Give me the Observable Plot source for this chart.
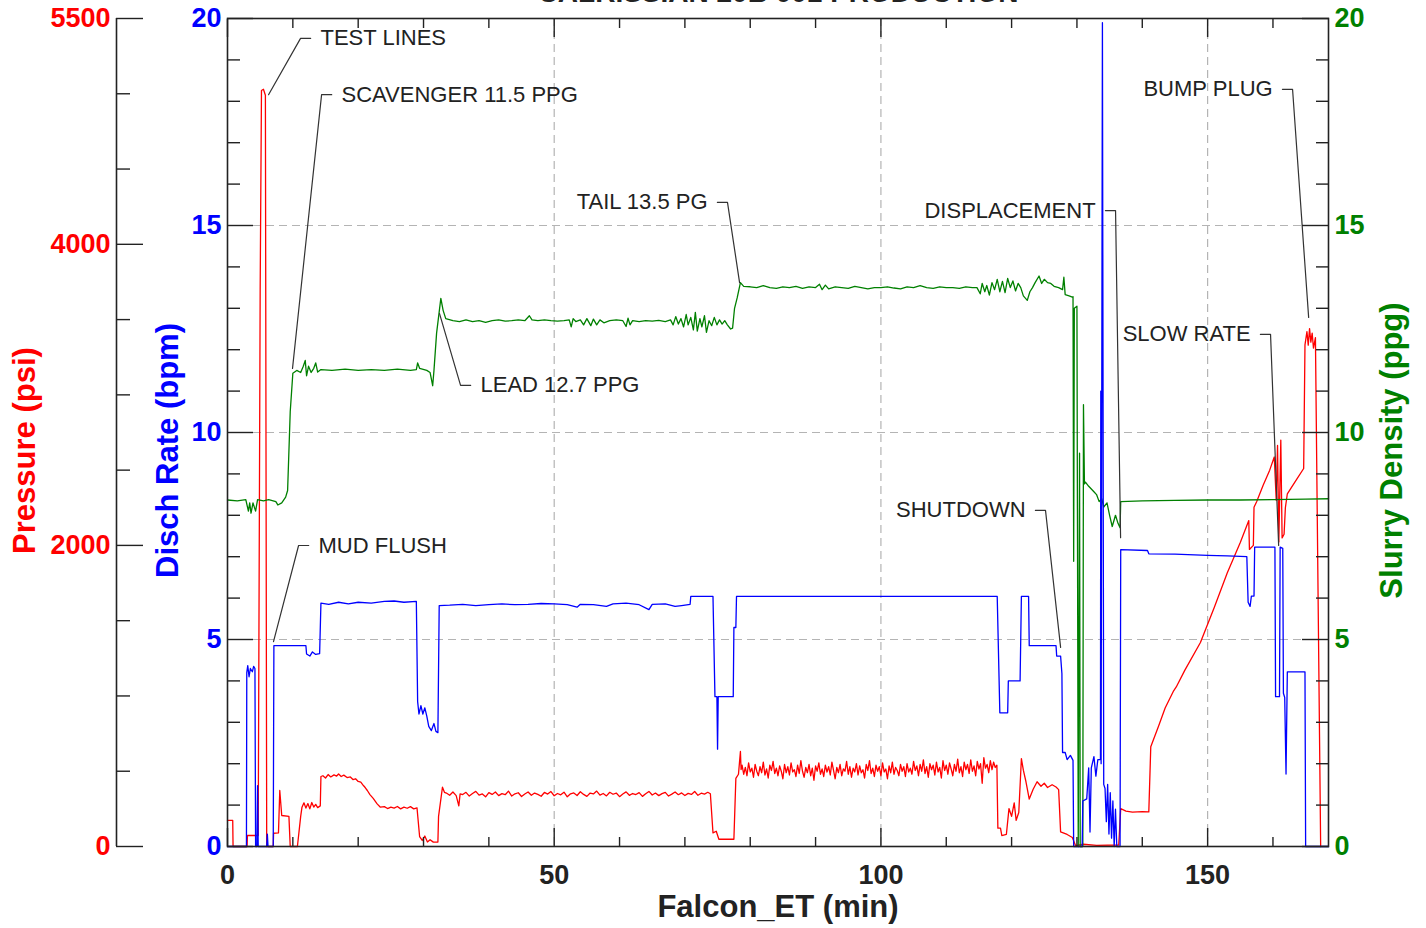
<!DOCTYPE html>
<html><head><meta charset="utf-8">
<script src="https://cdn.jsdelivr.net/npm/d3@7"></script>
<script src="https://cdn.jsdelivr.net/npm/@observablehq/plot@0.6"></script>
<style>html,body{margin:0;padding:0;background:#fff;overflow:hidden}</style>
</head><body><div id="chart"></div>
<script>
const titleText = "CALRISSIAN 20B 001 PRODUCTION";
const xLabel = "Falcon_ET (min)";
const pressureLabel = "Pressure (psi)";
const rateLabel = "Disch Rate (bpm)";
const densityLabel = "Slurry Density (ppg)";

const xDomain = [0, 168.5];
const rateMax = 20;
const pressureMax = 5500;

const xMajorTicks = [0, 50, 100, 150];
const xMinorTicks = [10, 20, 30, 40, 60, 70, 80, 90, 110, 120, 130, 140, 160];
const rateMajorTicks = [0, 5, 10, 15, 20];
const rateMinorTicks = [1,2,3,4,6,7,8,9,11,12,13,14,16,17,18,19];
const densityMajorTicks = [0, 5, 10, 15, 20];
const densityMinorTicks = [1,2,3,4,6,7,8,9,11,12,13,14,16,17,18,19];
const pressureMajorTicks = [0, 2000, 4000, 5500];
const pressureMinorTicks = [500, 1000, 1500, 2500, 3000, 3500, 4500, 5000];
const gridX = [50, 100, 150];
const gridY = [5, 10, 15];

// Disch Rate (bpm): [min, bpm]
const ratePts = [[0,0],[2.9,0],[2.95,4.2],[3.1,4.37],[3.3,4.1],[3.5,4.3],[3.8,4.22],[4.0,4.35],[4.2,4.3],[4.3,0],[4.5,0],[4.6,1.47],[4.7,0],[6.0,0],[6.1,0.3],[6.2,0],[7.0,0],[7.1,4.85],[12.0,4.85],[12.1,4.65],[12.6,4.6],[13.0,4.7],[13.5,4.64],[14.1,4.66],[14.3,5.88],[15.5,5.85],[17,5.9],[18.5,5.86],[20,5.9],[22,5.88],[24,5.92],[25.5,5.93],[27,5.9],[28.9,5.92],[29.1,3.5],[29.3,3.2],[29.6,3.4],[29.9,3.2],[30.2,3.35],[30.5,3.15],[30.8,2.9],[31.2,2.8],[31.6,2.97],[31.9,2.78],[32.2,2.75],[32.4,5.82],[34,5.83],[36,5.85],[38,5.82],[40,5.84],[42,5.86],[44,5.84],[46,5.85],[48,5.87],[50,5.86],[52,5.84],[53.5,5.78],[54,5.85],[56,5.84],[58,5.8],[59,5.86],[61,5.88],[63,5.84],[64.5,5.72],[65,5.85],[67,5.86],[68.5,5.8],[69.5,5.82],[70.8,5.85],[70.9,6.04],[74.3,6.04],[74.6,3.62],[74.9,3.62],[75.0,2.35],[75.1,3.62],[77.4,3.62],[77.5,5.29],[77.8,5.29],[77.9,6.04],[117.8,6.04],[118.2,3.23],[119.4,3.23],[119.5,4.0],[121.3,4.0],[121.5,6.04],[122.6,6.04],[122.7,4.85],[126.8,4.85],[126.9,4.6],[127.5,4.6],[127.7,4.18],[127.8,2.27],[128.2,2.27],[128.5,2.1],[129.0,2.2],[129.4,2.08],[129.5,0],[130.8,0],[130.9,1.1],[131.5,1.15],[131.8,1.9],[132.0,0.35],[132.2,1.9],[132.6,2.17],[132.9,1.7],[133.2,2.1],[133.6,2.1],[133.65,11.0],[133.7,2.0],[133.9,19.9],[134.1,1.5],[134.3,1.4],[134.5,0.6],[134.7,1.5],[134.9,0.3],[135.1,1.3],[135.3,0.2],[135.5,1.1],[135.7,0],[135.9,0.9],[136.1,0],[136.6,0],[136.7,7.17],[140.8,7.15],[141.0,7.07],[145,7.06],[150,7.03],[153,7.02],[156.0,7.0],[156.2,5.9],[156.5,5.8],[156.7,6.05],[157.1,6.05],[157.2,7.23],[160.3,7.23],[160.4,3.62],[161.0,3.62],[161.1,7.23],[161.5,7.2],[161.6,3.7],[161.8,3.6],[162.0,1.75],[162.2,4.22],[164.9,4.22],[165.0,0],[168.5,0]];

// Pressure (psi): [min, psi]
const pressureStart = [[0,173],[0.8,173],[0.85,0],[3.0,0],[3.05,73],[4.7,73],[5.0,3700],[5.2,5022],[5.5,5030],[5.8,4990],[6.0,0],[7.0,0],[7.05,88],[7.8,90],[8.0,372],[8.3,206],[9.4,200],[9.6,0],[10.7,0],[11.2,200],[11.4,261],[11.7,290],[12,255],[12.3,285],[12.6,250],[12.9,292],[13.2,262],[13.5,280],[13.8,258],[14.2,270],[14.3,465],[14.6,470],[15.0,455],[15.4,478],[15.8,462],[16.3,476],[16.7,468],[17.0,482],[17.4,465],[17.8,474],[18.3,458],[18.8,462],[19.2,445],[19.6,450],[20.0,432],[20.4,427],[20.8,405],[21.1,390],[21.4,372],[21.8,345],[22.3,320],[22.9,283],[23.4,261],[24,265],[24.5,252],[25,262],[25.5,255],[26,266],[26.5,250],[27,262],[27.5,254],[28,265],[28.5,250],[29,257],[29.4,66],[29.8,40],[30.2,70],[30.6,30],[31,45],[31.5,29],[32.2,30],[32.3,200],[32.9,394],[33.2,360]];
const pressureLead = [[33.5,355],[34,340],[34.5,362],[35,338],[35.4,270],[35.6,350],[36,345],[36.5,360],[37,335],[37.5,352],[38,366],[38.5,341],[39,349],[39.5,330],[40,358],[40.5,346],[41,362],[41.5,338],[42,351],[42.5,344],[43,368],[43.5,335],[44,350],[44.5,357],[45,332],[45.5,349],[46,362],[46.5,340],[47,355],[47.5,346],[48,334],[48.5,359],[49,348],[49.5,365],[50,337],[50.5,352],[51,343],[51.5,361],[52,330],[52.5,350],[53,356],[53.5,339],[54,364],[54.5,346],[55,333],[55.5,355],[56,349],[56.5,368],[57,341],[57.5,352],[58,336],[58.5,360],[59,347],[59.5,355],[60,331],[60.5,349],[61,363],[61.5,340],[62,352],[62.5,345],[63,358],[63.5,333],[64,350],[64.5,366],[65,342],[65.5,355],[66,338],[66.5,351],[67,360],[67.5,335],[68,348],[68.5,362],[69,344],[69.5,356],[70,339],[70.5,353],[71,346],[71.5,365],[72,340],[72.5,354],[73,348],[73.5,360],[73.9,350]];
const pressureMid = [[74.3,90],[74.8,101],[75.2,48],[77.5,48],[77.8,452],[78.2,480],[78.5,631],[78.6,511]];
const pressureTail = [[78.75,540],[79,480],[79.25,525],[79.5,470],[79.75,555],[80,495],[80.25,520],[80.5,460],[80.75,545],[81,500],[81.25,470],[81.5,530],[81.75,490],[82,560],[82.25,475],[82.5,515],[82.75,455],[83,540],[83.25,505],[83.5,565],[83.75,485],[84,520],[84.25,470],[84.5,535],[84.75,500],[85,450],[85.25,545],[85.5,490],[85.75,530],[86,475],[86.25,555],[86.5,495],[86.75,510],[87,465],[87.25,540],[87.5,485],[87.75,570],[88,500],[88.25,460],[88.5,525],[88.75,490],[89,545],[89.25,470],[89.5,520],[89.75,440],[90,535],[90.25,500],[90.5,555],[90.75,480],[91,515],[91.25,465],[91.5,540],[91.75,495],[92,530],[92.25,475],[92.5,560],[92.75,505],[93,450],[93.25,525],[93.5,490],[93.75,545],[94,470],[94.25,515],[94.5,500],[94.75,565],[95,480],[95.25,530],[95.5,460],[95.75,520],[96,495],[96.25,550],[96.5,475],[96.75,535],[97,490],[97.25,510],[97.5,455],[97.75,545],[98,505],[98.25,570],[98.5,485],[98.75,520],[99,465],[99.25,540],[99.5,500],[99.75,530],[100,470],[100.25,555],[100.5,495],[100.75,515],[101,450],[101.25,535],[101.5,490],[101.75,560],[102,480],[102.25,525],[102.5,505],[102.75,470],[103,545],[103.25,500],[103.5,530],[103.75,465],[104,550],[104.25,495],[104.5,520],[104.75,480],[105,565],[105.25,505],[105.5,535],[105.75,470],[106,545],[106.25,500],[106.5,575],[106.75,485],[107,530],[107.25,460],[107.5,550],[107.75,510],[108,540],[108.25,475],[108.5,560],[108.75,495],[109,525],[109.25,455],[109.5,570],[109.75,505],[110,540],[110.25,480],[110.5,555],[110.75,515],[111,470],[111.25,545],[111.5,500],[111.75,580],[112,490],[112.25,530],[112.5,465],[112.75,560],[113,510],[113.25,545],[113.5,485],[113.75,575],[114,500],[114.25,535],[114.5,470],[114.75,565],[115,515],[115.25,550],[115.5,420],[115.75,590],[116,520],[116.25,545],[116.5,490],[116.75,570],[117,510],[117.25,560],[117.5,525],[117.75,540]];
const pressureEnd = [[117.9,122],[118.3,122],[118.5,73],[119.2,80],[119.6,252],[120.0,200],[120.4,290],[120.7,174],[121.1,226],[121.5,584],[121.8,507],[122.2,430],[122.7,315],[123.3,380],[123.9,430],[124.5,400],[125.0,420],[125.5,392],[126.2,410],[126.8,395],[127.2,378],[127.5,97],[128.5,80],[129.3,60],[129.8,5],[131,15],[133,8],[136.4,10],[136.7,251],[137.5,235],[138.5,228],[140,232],[141.0,230],[141.3,662],[142.5,800],[143.5,920],[144.8,1034],[145.2,1060],[146.5,1170],[148.9,1355],[151,1586],[153,1817],[155,2020],[156.3,2165],[156.4,1973],[157.0,2000],[157.1,2254],[157.5,2290],[158.5,2400],[159.5,2500],[160.2,2587],[160.5,2300],[160.7,2664],[160.9,2023],[161.2,2700],[161.4,2050],[161.7,2074],[161.9,2250],[162.2,2343],[163.5,2430],[164.7,2511],[164.9,3332],[165.2,3420],[165.4,3330],[165.6,3440],[165.8,3350],[166.0,3410],[166.2,3310],[166.5,3380],[167.3,0]];

// Slurry Density (ppg): [min, ppg]
const densityPts = [[0,8.37],[1.5,8.35],[2.8,8.38],[3.2,8.1],[3.4,8.3],[3.6,8.05],[3.9,8.3],[4.3,8.1],[4.6,8.38],[5.5,8.35],[6.3,8.38],[7.4,8.33],[7.7,8.25],[8.3,8.3],[8.9,8.44],[9.2,8.6],[9.6,10.5],[10.0,11.43],[10.6,11.5],[11.2,11.45],[11.6,11.6],[11.9,11.74],[12.1,11.37],[12.4,11.6],[12.8,11.45],[13.2,11.55],[13.5,11.68],[13.8,11.46],[14.3,11.52],[16,11.5],[18,11.53],[20,11.5],[22,11.52],[24,11.5],[26,11.53],[28,11.5],[28.9,11.52],[29.1,11.68],[29.4,11.55],[30.5,11.5],[31.0,11.45],[31.4,11.13],[31.6,11.5],[32.0,12.4],[32.65,13.24],[33.0,12.95],[33.4,12.75],[34.5,12.7],[35.5,12.68],[36.5,12.72],[37.5,12.68],[38.5,12.7],[39.5,12.66],[40.5,12.7],[41.5,12.72],[42.5,12.69],[43.5,12.7],[44.5,12.72],[45.5,12.7],[46.2,12.82],[46.6,12.72],[47.5,12.7],[48.5,12.72],[49.5,12.7],[50.5,12.69],[51.5,12.7],[52.3,12.72],[52.6,12.55],[52.9,12.75],[53.3,12.68],[54,12.72],[54.5,12.6],[55,12.75],[55.6,12.58],[56,12.74],[56.5,12.6],[57,12.72],[57.6,12.65],[58.5,12.7],[59.5,12.72],[60.5,12.7],[61.0,12.56],[61.3,12.76],[61.6,12.6],[62,12.7],[63,12.68],[64,12.7],[65,12.69],[66,12.71],[67,12.68],[67.8,12.72],[68.2,12.6],[68.6,12.8],[69,12.62],[69.4,12.75],[69.8,12.55],[70.2,12.85],[70.5,12.6],[70.9,12.78],[71.3,12.48],[71.6,12.9],[71.9,12.45],[72.3,12.75],[72.6,12.55],[73,12.82],[73.3,12.42],[73.7,12.7],[74.1,12.58],[74.5,12.78],[74.9,12.6],[75.3,12.72],[75.7,12.62],[76.1,12.7],[76.5,12.6],[77.0,12.5],[77.3,12.52],[77.6,13.0],[78.0,13.25],[78.5,13.62],[79,13.53],[80,13.52],[81,13.5],[82,13.55],[83,13.5],[84,13.48],[85,13.52],[86,13.5],[87,13.53],[88,13.48],[89,13.52],[90,13.5],[90.6,13.58],[91,13.45],[91.5,13.56],[92,13.47],[93,13.52],[94,13.5],[95,13.48],[96,13.53],[97,13.5],[98,13.47],[99,13.5],[100,13.5],[101,13.52],[102,13.49],[103,13.47],[104,13.52],[105,13.5],[106,13.55],[107,13.5],[108,13.48],[109,13.52],[110,13.5],[111,13.5],[112,13.48],[113,13.52],[114,13.5],[114.7,13.5],[115.2,13.35],[115.5,13.6],[115.9,13.4],[116.2,13.55],[116.6,13.32],[117.0,13.62],[117.4,13.45],[117.8,13.7],[118.2,13.4],[118.6,13.65],[119.0,13.38],[119.4,13.72],[119.8,13.5],[120.2,13.66],[120.6,13.42],[121.0,13.6],[121.4,13.5],[121.8,13.3],[122.4,13.19],[122.8,13.4],[123.2,13.5],[123.6,13.62],[124.2,13.78],[124.6,13.6],[125.0,13.7],[125.5,13.62],[126.0,13.6],[126.5,13.53],[127.2,13.5],[127.8,13.45],[128.0,13.75],[128.2,13.33],[128.8,13.3],[129.3,13.27],[129.4,13.28],[129.5,6.89],[129.6,13.0],[130.0,13.05],[130.2,0],[130.4,9.5],[130.5,0],[130.9,0],[131.0,10.67],[131.15,8.76],[131.3,8.8],[131.8,8.7],[132.6,8.57],[133.0,8.5],[133.4,8.33],[133.8,8.4],[134.1,8.2],[134.6,8.3],[135.0,8.0],[135.4,7.73],[135.9,8.0],[136.3,7.8],[136.6,7.7],[136.7,8.33],[140,8.35],[145,8.36],[150,8.37],[155,8.37],[160,8.38],[165,8.39],[168.5,8.4]];

// Annotations: label position and the point it refers to, in chart units (min, 0-20 scale)
const annotations = [
  {label: "TEST LINES", side: "start", lt: 14.23, lv: 19.52, pt: 6.28, pv: 18.16},
  {label: "SCAVENGER 11.5 PPG", side: "start", lt: 17.45, lv: 18.16, pt: 9.95, pv: 11.55},
  {label: "MUD FLUSH", side: "start", lt: 13.93, lv: 7.27, pt: 7.04, pv: 4.95},
  {label: "LEAD 12.7 PPG", side: "start", lt: 38.72, lv: 11.14, pt: 32.45, pv: 12.87},
  {label: "TAIL 13.5 PG", side: "end", lt: 73.47, lv: 15.56, pt: 78.37, pv: 13.62},
  {label: "DISPLACEMENT", side: "end", lt: 132.86, lv: 15.36, pt: 136.68, pv: 7.46},
  {label: "SHUTDOWN", side: "end", lt: 122.14, lv: 8.12, pt: 127.5, pv: 4.81},
  {label: "SLOW RATE", side: "end", lt: 156.58, lv: 12.37, pt: 160.87, pv: 7.27},
  {label: "BUMP PLUG", side: "end", lt: 159.95, lv: 18.29, pt: 165.46, pv: 12.78}
];

const RED = "#ff0000", BLUE = "#0000ff", GREEN = "#008000", INK = "#222";
const pk = rateMax / pressureMax;
const pressurePts = [...pressureStart, ...pressureLead, ...pressureMid, ...pressureTail, ...pressureEnd];
const pressureRows = pressurePts.map(([t, p]) => ({t, v: p * pk}));
const rateRows = ratePts.map(([t, v]) => ({t, v}));
const densityRows = densityPts.map(([t, v]) => ({t, v}));

const gap = 1.5, elbow = 1.55;
const leaders = [];
annotations.forEach((a, i) => {
  const s = a.side === "start" ? -1 : 1;
  leaders.push({id: i, t: a.lt + s * gap, v: a.lv});
  leaders.push({id: i, t: a.lt + s * (gap + elbow), v: a.lv});
  leaders.push({id: i, t: a.pt, v: a.pv});
});

const tickFont = {fontSize: 27, fontWeight: "bold"};
const titleFont = {fontSize: 31, fontWeight: "bold", textAnchor: "middle", lineAnchor: "middle"};
const chart = Plot.plot({
  width: 1426,
  height: 928,
  marginLeft: 227,
  marginRight: 98,
  marginTop: 18,
  marginBottom: 82,
  x: {domain: xDomain},
  y: {domain: [0, rateMax]},
  style: {fontFamily: "'Liberation Sans', Arial, sans-serif", background: "#fff", color: INK},
  marks: [
    Plot.gridX(gridX, {stroke: "#b4b4b4", strokeOpacity: 1, strokeWidth: 1.2, strokeDasharray: "8,5"}),
    Plot.gridY(gridY, {stroke: "#b4b4b4", strokeOpacity: 1, strokeWidth: 1.2, strokeDasharray: "8,5"}),
    Plot.line(pressureRows, {x: "t", y: "v", stroke: RED, strokeWidth: 1.3}),
    Plot.line(densityRows, {x: "t", y: "v", stroke: GREEN, strokeWidth: 1.3}),
    Plot.line(rateRows, {x: "t", y: "v", stroke: BLUE, strokeWidth: 1.3}),
    Plot.line(leaders, {x: "t", y: "v", z: "id", stroke: "#333", strokeWidth: 1.2}),
    Plot.text(annotations.filter(a => a.side === "start"), {x: "lt", y: "lv", text: "label", textAnchor: "start", fontSize: 22, fill: INK}),
    Plot.text(annotations.filter(a => a.side === "end"), {x: "lt", y: "lv", text: "label", textAnchor: "end", fontSize: 22, fill: INK}),
    Plot.frame({stroke: INK, strokeWidth: 1.6}),
    // x axis ticks (inward), bottom and top
    Plot.axisX(xMinorTicks, {anchor: "bottom", tickSize: -9, fill: "none", stroke: INK, strokeWidth: 1.4, label: null}),
    Plot.axisX(xMajorTicks, {anchor: "bottom", tickSize: -18, fill: "none", stroke: INK, strokeWidth: 1.4, label: null}),
    Plot.axisX(xMinorTicks, {anchor: "top", tickSize: -9, fill: "none", stroke: INK, strokeWidth: 1.4, label: null}),
    Plot.axisX(xMajorTicks, {anchor: "top", tickSize: -18, fill: "none", stroke: INK, strokeWidth: 1.4, label: null}),
    Plot.axisX(xMajorTicks, {anchor: "bottom", tickSize: 0, tickPadding: 18, fill: INK, label: null, ...tickFont}),
    // rate axis (left frame)
    Plot.axisY(rateMinorTicks, {anchor: "left", tickSize: -13, fill: "none", stroke: INK, strokeWidth: 1.4, label: null}),
    Plot.axisY(rateMajorTicks, {anchor: "left", tickSize: -26, fill: "none", stroke: INK, strokeWidth: 1.4, label: null}),
    Plot.axisY(rateMajorTicks, {anchor: "left", tickSize: 0, tickPadding: 6, fill: BLUE, label: null, ...tickFont}),
    // density axis (right frame)
    Plot.axisY(densityMinorTicks, {anchor: "right", tickSize: -13, fill: "none", stroke: INK, strokeWidth: 1.4, label: null}),
    Plot.axisY(densityMajorTicks, {anchor: "right", tickSize: -27, fill: "none", stroke: INK, strokeWidth: 1.4, label: null}),
    Plot.axisY(densityMajorTicks, {anchor: "right", tickSize: 0, tickPadding: 6, fill: GREEN, label: null, ...tickFont}),
    // pressure axis (offset to the left)
    Plot.ruleX([0], {dx: -111, stroke: INK, strokeWidth: 1.6}),
    Plot.axisY(pressureMinorTicks.map(p => p * pk), {anchor: "left", dx: -111, tickSize: -14, fill: "none", stroke: INK, strokeWidth: 1.4, label: null}),
    Plot.axisY(pressureMajorTicks.map(p => p * pk), {anchor: "left", dx: -111, tickSize: -27, fill: "none", stroke: INK, strokeWidth: 1.4, label: null}),
    Plot.axisY(pressureMajorTicks.map(p => p * pk), {anchor: "left", dx: -111, tickSize: 0, tickPadding: 6, fill: RED, label: null, tickFormat: v => String(Math.round(v / pk)), ...tickFont}),
    // axis titles
    Plot.text([xLabel], {frameAnchor: "bottom", dy: 61, text: d => d, fill: INK, ...titleFont}),
    Plot.text([pressureLabel], {frameAnchor: "left", dx: -202, dy: 18, rotate: -90, text: d => d, fill: RED, ...titleFont}),
    Plot.text([rateLabel], {frameAnchor: "left", dx: -59, dy: 18, rotate: -90, text: d => d, fill: BLUE, ...titleFont}),
    Plot.text([densityLabel], {frameAnchor: "right", dx: 64, dy: 18, rotate: -90, text: d => d, fill: GREEN, ...titleFont}),
    Plot.text([titleText], {frameAnchor: "top", dy: -25, text: d => d, fill: INK, ...titleFont, fontSize: 28})
  ]
});
document.getElementById("chart").appendChild(chart);
</script></body></html>
